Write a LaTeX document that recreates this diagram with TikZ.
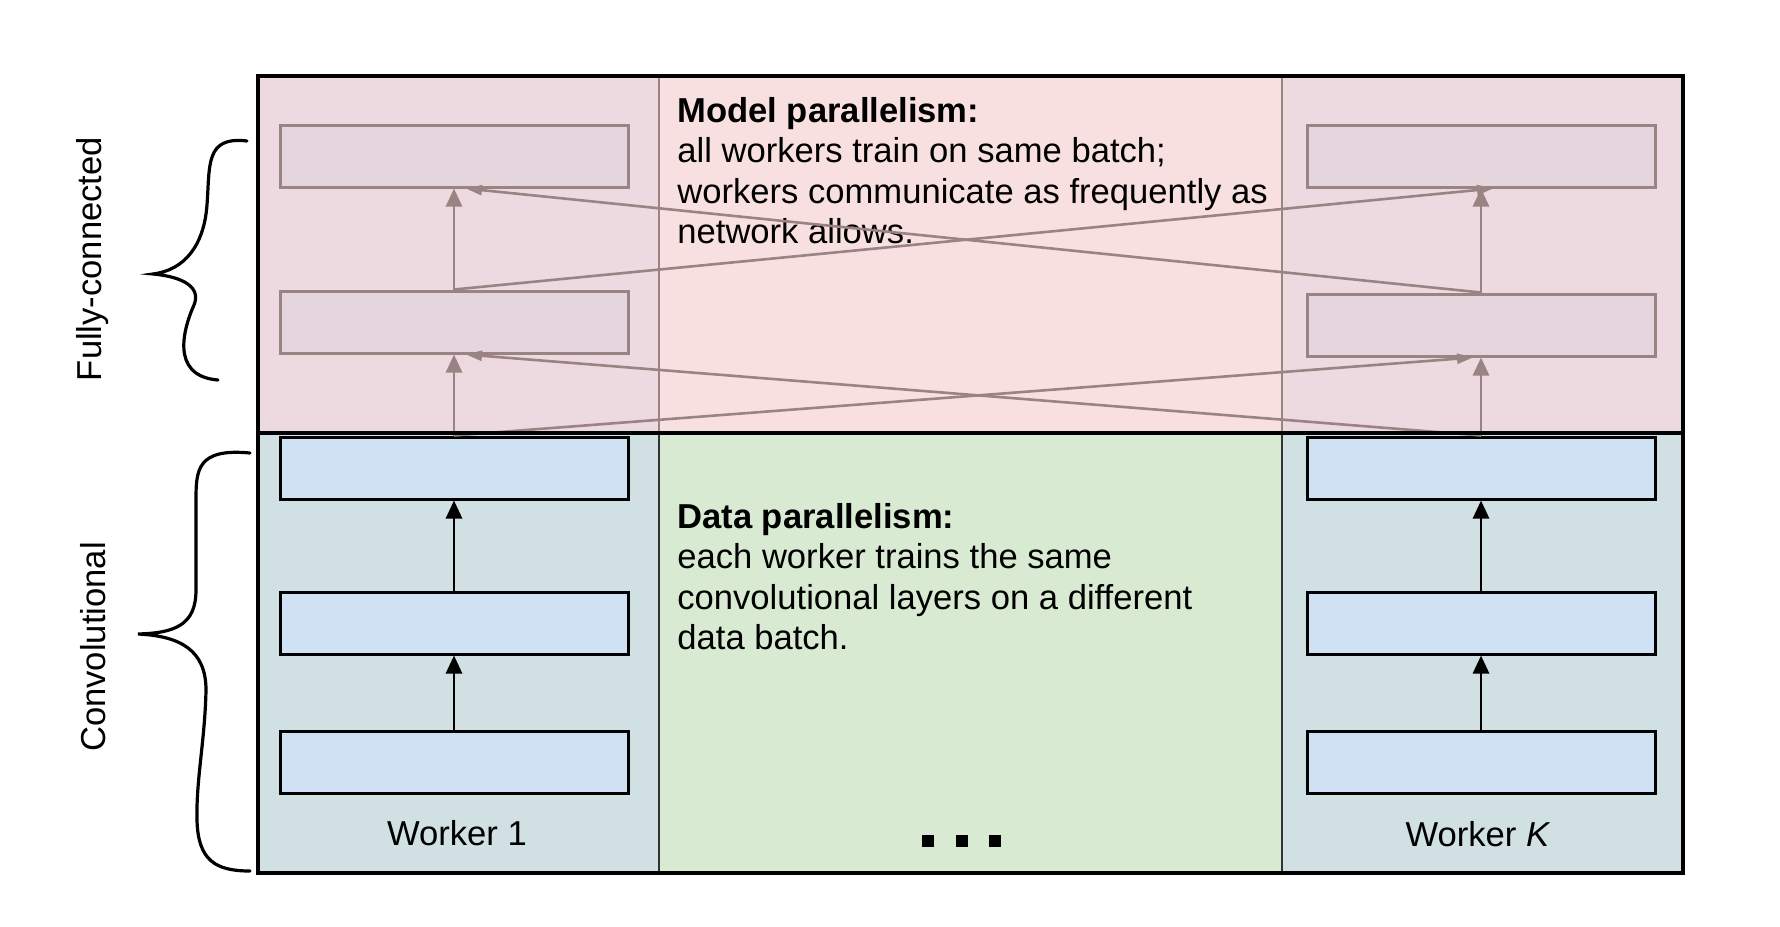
\documentclass[tikz,border=0pt]{standalone}
\usepackage{fontspec}
\setmainfont{Liberation Sans}
\usetikzlibrary{arrows.meta}

\definecolor{fcside}{HTML}{EDD9E0}
\definecolor{fcmid}{HTML}{F9E0E0}
\definecolor{fcbox}{HTML}{E5D5DD}
\definecolor{fcline}{HTML}{9A8383}
\definecolor{convside}{HTML}{D0E0E3}
\definecolor{convmid}{HTML}{D9EAD3}
\definecolor{convbox}{HTML}{CFE2F3}

\tikzset{
  layer/.style={draw=black, line width=1.5pt, fill=convbox, minimum width=174pt, minimum height=31pt, inner sep=0pt},
  fclayer/.style={layer, draw=fcline, fill=fcbox},
  up/.style={-{Triangle[length=9pt,width=8pt]}, line width=1.4pt},
  fcup/.style={up, draw=fcline},
  cross/.style={-{Triangle[length=8pt,width=5pt]}, line width=1.3pt, draw=fcline},
  txt/.style={inner sep=0pt, font=\fontsize{17.3pt}{20.25pt}\selectfont},
  brace/.style={line width=1.6pt, line cap=round}
}

\begin{document}
\begin{tikzpicture}[x=0.5pt,y=-0.5pt]
            \useasboundingbox (0,0) rectangle (1780,926);

            % column fills
            \fill[fcside] (258,76) rectangle (659,433);
            \fill[fcmid] (659,76) rectangle (1282,433);
            \fill[fcside] (1282,76) rectangle (1683,433);
            \fill[convside] (258,433) rectangle (659,873);
            \fill[convmid] (659,433) rectangle (1282,873);
            \fill[convside] (1282,433) rectangle (1683,873);
            \draw[fcline, line width=1.2pt] (659,76) -- (659,433) (1282,76) -- (1282,433);
            \draw[black!80, line width=1.2pt] (659,433) -- (659,873) (1282,433) -- (1282,873);

            % worker 1
            \node[fclayer] (w1fc1) at (454,156) {};
            \node[fclayer] (w1fc2) at (454,322) {};
            \node[layer] (w1cv1) at (454,468) {};
            \node[layer] (w1cv2) at (454,623) {};
            \node[layer] (w1cv3) at (454,762) {};

            % worker K
            \node[fclayer] (wkfc1) at (1481,156) {};
            \node[fclayer] (wkfc2) at (1481,325) {};
            \node[layer] (wkcv1) at (1481,468) {};
            \node[layer] (wkcv2) at (1481,623) {};
            \node[layer] (wkcv3) at (1481,762) {};

            \node[txt, anchor=north west, align=left] (modeltxt) at (677,97) {\textbf{Model parallelism:}\\all workers train on same batch;\\workers communicate as frequently as\\network allows.};
            \node[txt, anchor=north west, align=left] (datatxt) at (677,503) {\textbf{Data parallelism:}\\each worker trains the same\\convolutional layers on a different\\data batch.};
            \node[txt, anchor=base] (w1txt) at (457,845) {Worker 1};
            \node[txt, anchor=base] (wktxt) at (1478,846) {Worker \textit{K}};
            \node[txt, rotate=90] (fctxt) at (93,259) {Fully-connected};
            \node[txt, rotate=90] (cvtxt) at (93,647) {Convolutional};

            \foreach \x in {928,962,995}
                \fill (\x-6,835) rectangle (\x+6,847);

            \draw[up] (w1cv3) -- (w1cv2);
            \draw[up] (w1cv2) -- (w1cv1);
            \draw[up] (wkcv3) -- (wkcv2);
            \draw[up] (wkcv2) -- (wkcv1);
            \draw[fcup] (w1cv1) -- (w1fc2);
            \draw[fcup] (w1fc2) -- (w1fc1);
            \draw[fcup] (wkcv1) -- (wkfc2);
            \draw[fcup] (wkfc2) -- (wkfc1);

            \draw[cross] (w1fc2.north) -- ([xshift=6pt]wkfc1.south);
            \draw[cross] (wkfc2.north) -- ([xshift=6pt]w1fc1.south);
            \draw[cross] (w1cv1.north) -- ([xshift=-4pt]wkfc2.south);
            \draw[cross] (wkcv1.north) -- ([xshift=6pt]w1fc2.south);

            \draw[line width=1.8pt] (258,76) rectangle (1683,873);
            \draw[line width=1.8pt] (258,433) -- (1683,433);

            % braces
            \draw[brace] (247,141) .. controls (205,136) and (210,165) .. (207,205)
                .. controls (204,245) and (185,270) .. (153,274)
                .. controls (185,277) and (201,288) .. (194,305)
                .. controls (185,325) and (168,376) .. (218,380);
            \draw[brace] (250,453) .. controls (197,448) and (196,470) .. (196,500)
                -- (196,590) .. controls (196,625) and (175,633) .. (138,634)
                .. controls (180,636) and (206,650) .. (206,690)
                .. controls (205,740) and (196,780) .. (197,820)
                .. controls (198,860) and (215,871) .. (250,871);
        \end{tikzpicture}
\end{document}
